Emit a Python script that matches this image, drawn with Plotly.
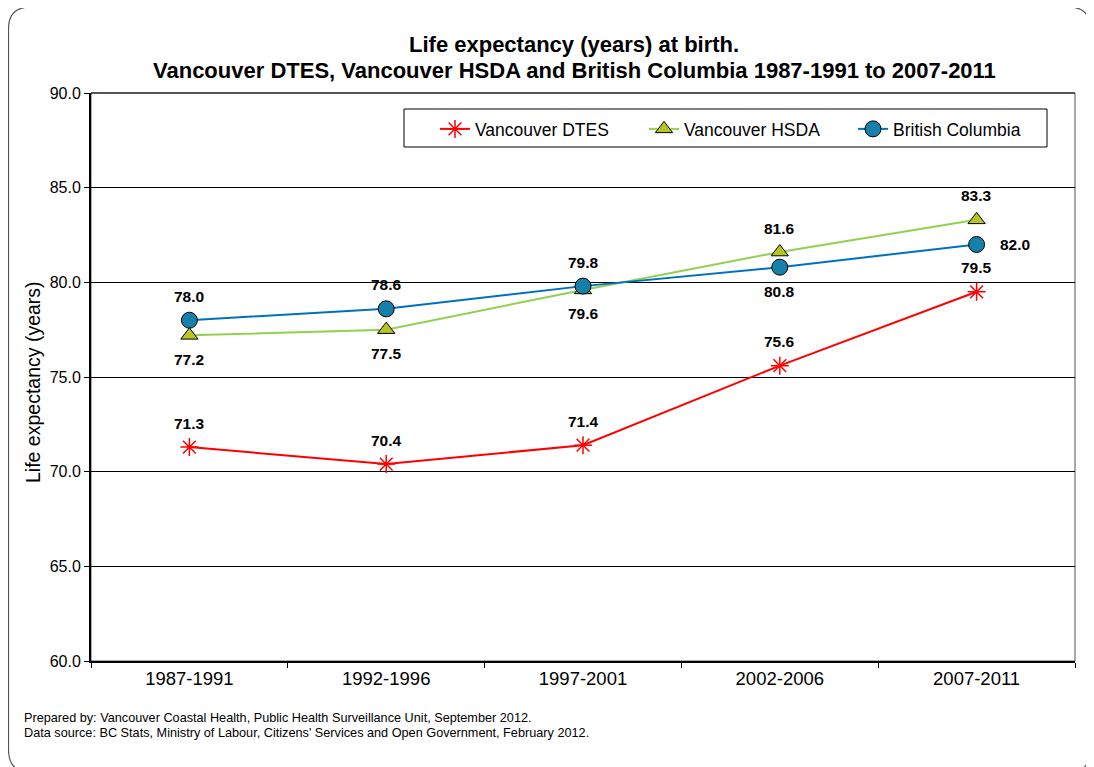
import plotly.graph_objects as go

periods = ["1987-1991", "1992-1996", "1997-2001", "2002-2006", "2007-2011"]
dtes = [71.3, 70.4, 71.4, 75.6, 79.5]
hsda = [77.2, 77.5, 79.6, 81.6, 83.3]
bc = [78.0, 78.6, 79.8, 80.8, 82.0]
dtes_pos = ["above", "above", "above", "above", "above"]
hsda_pos = ["below", "below", "below", "above", "above"]
bc_pos = ["above", "above", "above", "below", "right"]

# page is offset by 8px body margin
OFF = 8
W, H = 1094 - OFF, 767 - OFF
L, R, T, B = 91, 1075, 93, 661  # page coordinates of plot area
FONT = "Liberation Sans, Arial, sans-serif"


def px(x):
    return (x - L) / (R - L)


def py(y):
    return (B - y) / (B - T)


fig = go.Figure()
fig.add_trace(go.Scatter(
    x=periods, y=dtes, name="Vancouver DTES", mode="lines+markers",
    line=dict(color="#FF0000", width=2),
    marker=dict(symbol="asterisk-open", size=15, color="#FF0000",
                line=dict(color="#FF0000", width=1.5))))
fig.add_trace(go.Scatter(
    x=periods, y=hsda, name="Vancouver HSDA", mode="lines+markers",
    line=dict(color="#92D050", width=2),
    marker=dict(symbol="triangle-up", size=15, color="#B8C520",
                line=dict(color="#000000", width=1))))
fig.add_trace(go.Scatter(
    x=periods, y=bc, name="British Columbia", mode="lines+markers",
    line=dict(color="#0070C0", width=2),
    marker=dict(symbol="circle", size=16, color="#1780AA",
                line=dict(color="#000000", width=1))))

annotations = []
for series, poss in ((dtes, dtes_pos), (hsda, hsda_pos), (bc, bc_pos)):
    for cat, v, p in zip(periods, series, poss):
        xs, ys = 0, 0
        if p == "above":
            ys = 24
        elif p == "below":
            ys = -24
        else:
            xs = 38
        annotations.append(dict(
            x=cat, y=v, xref="x", yref="y", text=f"<b>{v:.1f}</b>",
            showarrow=False, xshift=xs, yshift=ys,
            font=dict(family=FONT, size=15.5, color="#000000")))

annotations.append(dict(
    x=px(574), y=py(45), xref="paper", yref="paper",
    text="<b>Life expectancy (years) at birth.</b>",
    showarrow=False, xanchor="center", yanchor="middle",
    font=dict(family=FONT, size=22, color="#000000")))
annotations.append(dict(
    x=px(574), y=py(70), xref="paper", yref="paper",
    text="<b>Vancouver DTES, Vancouver HSDA and British Columbia 1987-1991 to 2007-2011</b>",
    showarrow=False, xanchor="center", yanchor="middle",
    font=dict(family=FONT, size=22, color="#000000")))
annotations.append(dict(
    x=px(33), y=py(382), xref="paper", yref="paper",
    text="Life expectancy (years)", textangle=-90, showarrow=False,
    xanchor="center", yanchor="middle",
    font=dict(family=FONT, size=19.5, color="#000000")))
annotations.append(dict(
    x=px(22), y=py(718), xref="paper", yref="paper",
    text="Prepared by: Vancouver Coastal Health, Public Health Surveillance Unit, September 2012.",
    showarrow=False, xanchor="left", yanchor="middle",
    font=dict(family=FONT, size=12.7, color="#000000")))
annotations.append(dict(
    x=px(22), y=py(733), xref="paper", yref="paper",
    text="Data source: BC Stats, Ministry of Labour, Citizens' Services and Open Government, February 2012.",
    showarrow=False, xanchor="left", yanchor="middle",
    font=dict(family=FONT, size=12.7, color="#000000")))

# outer rounded border
x0, x1, y0, y1, r = 8.5, 1090.5, 7, 772, 22
path = (f"M {px(x0+r)},{py(y0)} L {px(x1-r)},{py(y0)} Q {px(x1)},{py(y0)} {px(x1)},{py(y0+r)} "
        f"L {px(x1)},{py(y1-r)} Q {px(x1)},{py(y1)} {px(x1-r)},{py(y1)} "
        f"L {px(x0+r)},{py(y1)} Q {px(x0)},{py(y1)} {px(x0)},{py(y1-r)} "
        f"L {px(x0)},{py(y0+r)} Q {px(x0)},{py(y0)} {px(x0+r)},{py(y0)} Z")
shapes = [
    dict(type="path", path=path, xref="paper", yref="paper",
         line=dict(color="#555555", width=1.2), layer="below"),
    dict(type="rect", x0=0, x1=1, y0=0, y1=1, xref="paper", yref="paper",
         line=dict(color="#555555", width=1), layer="below"),
    dict(type="line", x0=0, x1=1, y0=1, y1=1, xref="paper", yref="paper",
         line=dict(color="#000000", width=1), layer="below"),
    dict(type="rect", x0=px(404), x1=px(1047), y0=py(109), y1=py(147),
         xref="paper", yref="paper", fillcolor="white",
         line=dict(color="#000000", width=1), layer="below"),
]

fig.update_layout(
    width=W, height=H,
    margin=dict(l=L - OFF, r=1094 - R, t=T - OFF, b=767 - B, pad=0),
    paper_bgcolor="white", plot_bgcolor="white",
    font=dict(family=FONT, color="#000000"),
    showlegend=True,
    legend=dict(orientation="h", x=px(435), y=py(111), xanchor="left", yanchor="top",
                bgcolor="rgba(0,0,0,0)", borderwidth=0,
                font=dict(family=FONT, size=17.5, color="#000000"),
                entrywidth=164, entrywidthmode="pixels", itemwidth=30),
    annotations=annotations,
    shapes=shapes,
    xaxis=dict(type="category", range=[-0.5, 4.5], showgrid=False,
               showline=True, linecolor="#000000", linewidth=2,
               ticks="outside", tickson="boundaries", ticklen=5,
               tickcolor="#000000", tickwidth=1,
               tickfont=dict(family=FONT, size=18.5, color="#000000")),
    yaxis=dict(range=[60, 90], dtick=5, tickformat=".1f",
               showgrid=True, gridcolor="#000000", gridwidth=1,
               showline=True, linecolor="#000000", linewidth=2,
               ticks="outside", ticklen=5, tickcolor="#000000",
               zeroline=False,
               tickfont=dict(family=FONT, size=16, color="#000000")),
)

fig.write_html("out.html")
